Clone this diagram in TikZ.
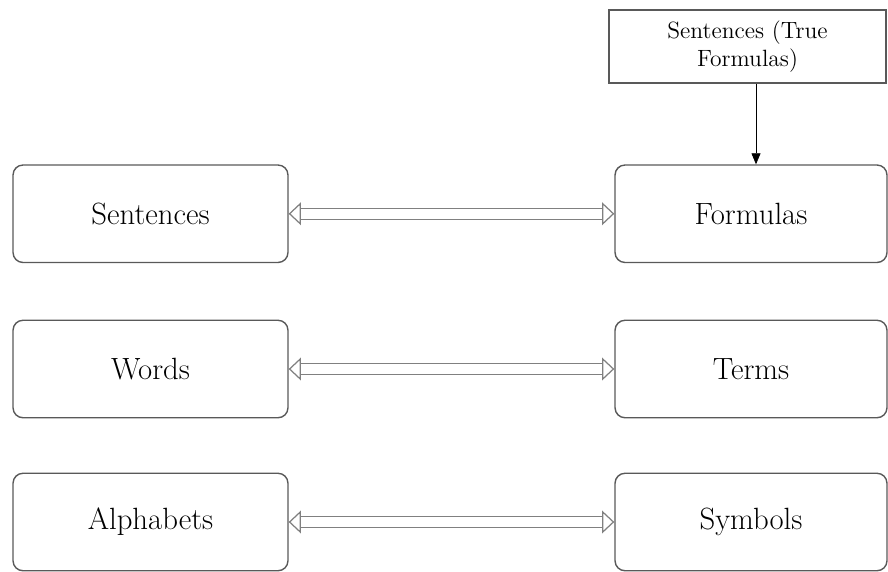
\documentclass[tikz,border=0pt]{standalone}
\usetikzlibrary{positioning}
\usetikzlibrary{arrows.meta}

\begin{document}
\begin{tikzpicture}[x = 0.02cm, y = -0.02cm,
		termbox/.style = {draw = black!65, line width = 0.8pt, rounded corners = 0.2cm, minimum height = 1.95cm, font = \fontsize{17.5}{21}\selectfont},
		topbox/.style = {draw = black!65, line width = 0.8pt, minimum width = 5.54cm, minimum height = 1.46cm, align = center, font = \fontsize{13.4}{16}\selectfont},
		twoway/.style = {draw = black!50, line width = 0.7pt, double = white, double distance = 5.5pt, {Triangle[open, length = 7pt, width = 13pt]}-{Triangle[open, length = 7pt, width = 13pt]}}]
					\useasboundingbox (0, 0) rectangle (888, 571);
					\node (sentences) at (150.5, 213.75) [termbox, minimum width = 5.5cm] {Sentences};
					\node (words) at (150.5, 369) [termbox, minimum width = 5.5cm] {Words};
					\node (alphabets) at (150.5, 522) [termbox, minimum width = 5.5cm] {Alphabets};
					\node (formulas) at (751, 213.75) [termbox, minimum width = 5.44cm] {Formulas};
					\node (terms) at (751, 369) [termbox, minimum width = 5.44cm] {Terms};
					\node (symbols) at (751, 522) [termbox, minimum width = 5.44cm] {Symbols};
					\node (truef) at (747.5, 46.5) [topbox] {Sentences (True\\ Formulas)};
					\draw[black, -{Triangle[length = 0.22cm, width = 0.18cm]}] (truef.south -| 756, 0) -- (formulas.north -| 756, 0);
					\draw[twoway] (sentences) -- (formulas);
					\draw[twoway] (words) -- (terms);
					\draw[twoway] (alphabets) -- (symbols);
				\end{tikzpicture}
\end{document}
